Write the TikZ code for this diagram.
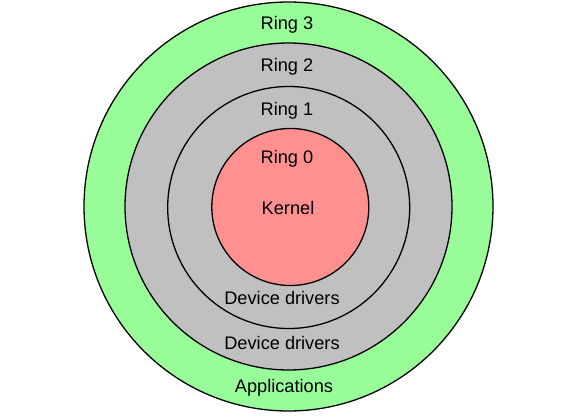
\documentclass[tikz,border=0pt]{standalone}
\usepackage{fontspec}
\setmainfont{Liberation Sans}
\definecolor{ringgreen}{RGB}{152,252,152}
\definecolor{ringgray}{RGB}{192,192,192}
\definecolor{ringred}{RGB}{255,144,144}
\begin{document}
\begin{tikzpicture}[x=1pt,y=-1pt,
  ring/.style={circle,draw=black,line width=1.3pt,inner sep=0pt,outer sep=0pt},
  lbl/.style={anchor=base,inner sep=0pt,font=\fontsize{18.2}{22}\selectfont}]
\useasboundingbox (0,0) rectangle (563,417);
\node[ring,fill=ringgreen,minimum size=409pt] (r3) at (288.5,206.5) {};
\node[ring,fill=ringgray,minimum size=327pt] (r2) at (288.5,206.5) {};
\node[ring,fill=ringgray,minimum size=242pt] (r1) at (288.7,207.5) {};
\node[ring,fill=ringred,minimum size=157pt] (r0) at (290.3,207) {};
\node[lbl] (t3) at (287,30) {Ring 3};
\node[lbl] (t2) at (287,72) {Ring 2};
\node[lbl] (t1) at (287,116) {Ring 1};
\node[lbl] (t0) at (287,164) {Ring 0};
\node[lbl] (k) at (288,215) {Kernel};
\node[lbl] (d1) at (282,305) {Device drivers};
\node[lbl] (d2) at (282,349) {Device drivers};
\node[lbl] (ap) at (284,392.5) {Applications};
\end{tikzpicture}
\end{document}
